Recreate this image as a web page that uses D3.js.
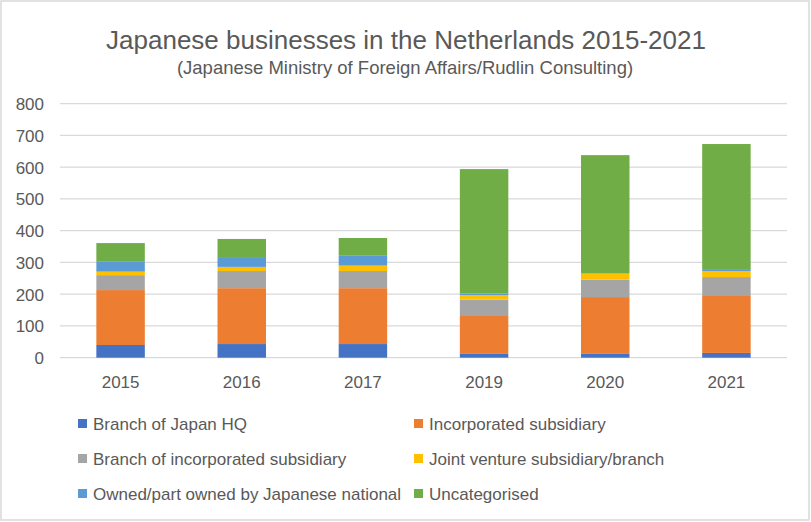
<!DOCTYPE html>
<html><head><meta charset="utf-8">
<script src="https://cdn.jsdelivr.net/npm/d3@7"></script>
<style>
html,body{margin:0;padding:0;background:#fff;}
svg{display:block;font-family:"Liberation Sans","Open Sans",sans-serif;}
</style></head>
<body><svg id="c" width="811" height="522"></svg>
<script>
const categories = ["2015","2016","2017","2019","2020","2021"];
const seriesNames = ["Branch of Japan HQ","Incorporated subsidiary","Branch of incorporated subsidiary","Joint venture subsidiary/branch","Owned/part owned by Japanese national","Uncategorised"];
const branchJapanHQ   = [40, 43, 43, 12, 12, 15];
const incorporated    = [173, 176, 176, 122, 179, 182];
const branchIncorp    = [47, 54, 54, 49, 55, 57];
const jointVenture    = [11, 13, 17, 14, 19, 19];
const ownedByNational = [31, 31, 31, 5, 0, 6];
const uncategorised   = [59, 57, 56, 392, 373, 394];
const yTicks = [0,100,200,300,400,500,600,700,800];
const colors = ["#4472C4","#ED7D31","#A5A5A5","#FFC000","#5B9BD5","#70AD47"];

const seriesValues = [branchJapanHQ, incorporated, branchIncorp, jointVenture, ownedByNational, uncategorised];
const rows = categories.map((c,i)=>{const r={cat:c}; seriesNames.forEach((s,j)=>r[s]=seriesValues[j][i]); return r;});
const stacked = d3.stack().keys(seriesNames)(rows);

const svg = d3.select("#c");
svg.append("rect").attr("x",1).attr("y",1).attr("width",808).attr("height",519)
  .attr("fill","#fff").attr("stroke","#D9D9D9").attr("stroke-width",1.5);

const x = d3.scaleBand().domain(categories).range([60,787]).paddingInner(0.6).paddingOuter(0.3);
const y = d3.scaleLinear().domain([0,800]).range([357.7,103.7]);

// gridlines
svg.append("g").selectAll("line").data(yTicks).join("line")
  .attr("x1",60).attr("x2",787).attr("y1",d=>y(d)).attr("y2",d=>y(d))
  .attr("stroke","#D9D9D9").attr("stroke-width",1.3);

// y axis labels
const yAxis = d3.axisLeft(y).tickValues(yTicks).tickSize(0).tickPadding(0);
const ya = svg.append("g").attr("transform","translate(44,0)").call(yAxis);
ya.select(".domain").remove();
ya.selectAll("text").attr("fill","#595959").style("font-size","17px").attr("dy","0.35em");

// bars
svg.append("g").selectAll("g").data(stacked).join("g")
  .attr("fill",(d,i)=>colors[i])
  .selectAll("rect").data(d=>d).join("rect")
  .attr("x",d=>x(d.data.cat)).attr("width",x.bandwidth())
  .attr("y",d=>y(d[1])).attr("height",d=>y(d[0])-y(d[1]));

// x axis labels
const xAxis = d3.axisBottom(x).tickSize(0).tickPadding(0);
const xa = svg.append("g").attr("transform","translate(0,375)").call(xAxis);
xa.select(".domain").remove();
xa.selectAll("text").attr("fill","#595959").style("font-size","17px").attr("dy","0.75em");

// title
svg.append("text").attr("x",406).attr("y",49).attr("text-anchor","middle")
  .attr("fill","#595959").style("font-size","26px").text("Japanese businesses in the Netherlands 2015-2021");
svg.append("text").attr("x",405).attr("y",74).attr("text-anchor","middle")
  .attr("fill","#595959").style("font-size","18.5px").text("(Japanese Ministry of Foreign Affairs/Rudlin Consulting)");

// legend
const legX = [78, 414], legY = [424, 459, 494];
const lg = svg.append("g").selectAll("g").data(seriesNames).join("g")
  .attr("transform",(d,i)=>`translate(${legX[i%2]},${legY[Math.floor(i/2)]})`);
lg.append("rect").attr("x",0).attr("y",-5).attr("width",9).attr("height",9).attr("fill",(d,i)=>colors[i]);
lg.append("text").attr("x",15).attr("y",0).attr("dy","0.35em").attr("fill","#595959")
  .style("font-size","17px").text(d=>d);
</script>
</body></html>
